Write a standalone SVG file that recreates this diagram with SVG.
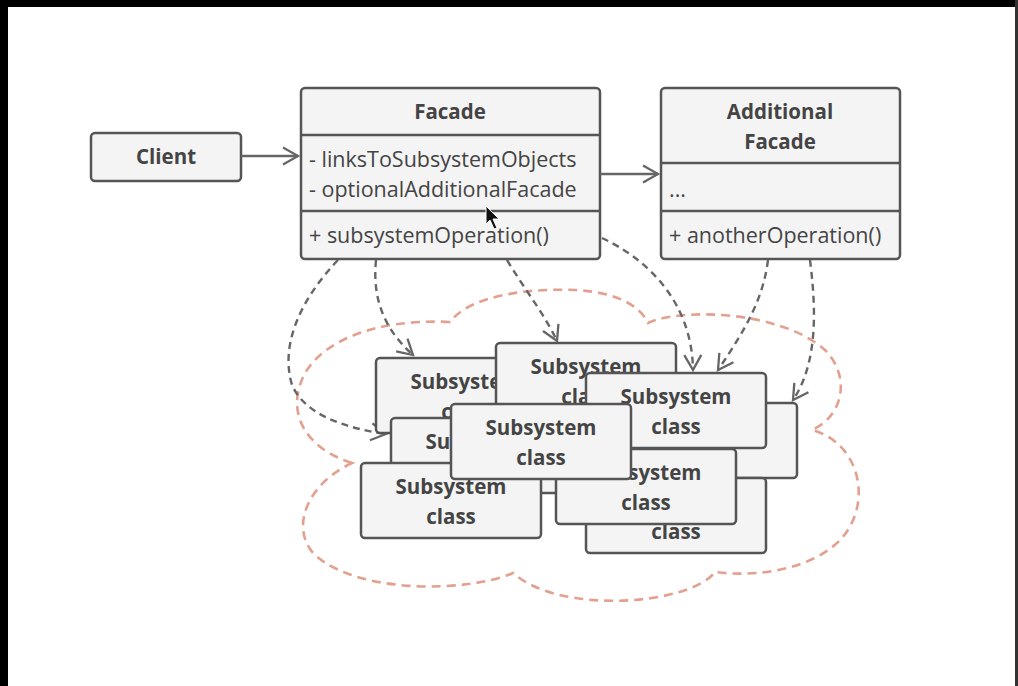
<svg xmlns="http://www.w3.org/2000/svg" width="1018" height="686" viewBox="0 0 1018 686">
<style>
.box{fill:#f4f4f4;stroke:#555;stroke-width:2.5}
.t{font-family:"Open Sans","Liberation Sans",sans-serif;fill:#444}
.b{font-weight:bold;font-size:20.5px;text-anchor:middle}
.m{font-size:21.5px}
.dash{fill:none;stroke:#666;stroke-width:2.4;stroke-dasharray:7 5}
.solid{fill:none;stroke:#666;stroke-width:2.5}
.cloud{fill:none;stroke:#e4a08f;stroke-width:2.6;stroke-dasharray:9 6}
</style>
<defs>
<marker id="ah" markerWidth="20" markerHeight="22" refX="16" refY="10" orient="auto" markerUnits="userSpaceOnUse">
<path d="M1,1.5 L16,10 L1,18.5" fill="none" stroke="#666" stroke-width="2.3" stroke-dasharray="none"/>
</marker>
<g id="sub">
<rect class="box" x="0" y="0" width="180" height="75" rx="4"/>
<text class="t b" x="90" y="31">Subsystem</text>
<text class="t b" x="90" y="61">class</text>
</g>
</defs>
<rect x="0" y="0" width="1018" height="686" fill="#fff"/>
<rect x="0" y="0" width="1018" height="7" fill="#000"/>
<rect x="0" y="0" width="8" height="686" fill="#000"/>
<rect x="1015" y="0" width="3" height="686" fill="#333"/>

<path class="cloud" d="M352,463 C305,448 290,415 300,385 C312,345 370,318 450,322 C470,295 530,288 575,290 C615,292 640,305 648,323 C680,308 780,310 825,350 C850,375 845,415 812,430 C858,442 874,500 842,538 C815,568 760,578 715,572 C690,605 560,615 513,573 C470,592 360,595 315,555 C290,530 305,485 352,463 Z"/>

<g id="client">
<rect class="box" x="91" y="133" width="150" height="48" rx="4"/>
<text class="t b" x="166" y="164">Client</text>
</g>

<g id="facade">
<rect class="box" x="301" y="88" width="299" height="171" rx="4"/>
<line x1="301" y1="135" x2="600" y2="135" stroke="#555" stroke-width="2.5"/>
<line x1="301" y1="211" x2="600" y2="211" stroke="#555" stroke-width="2.5"/>
<text class="t b" x="450" y="119">Facade</text>
<text class="t m" x="309" y="167">- linksToSubsystemObjects</text>
<text class="t m" x="309" y="197">- optionalAdditionalFacade</text>
<text class="t m" x="309" y="243">+ subsystemOperation()</text>
</g>

<g id="additional-facade">
<rect class="box" x="661" y="88" width="239" height="171" rx="4"/>
<line x1="661" y1="163" x2="900" y2="163" stroke="#555" stroke-width="2.5"/>
<line x1="661" y1="211" x2="900" y2="211" stroke="#555" stroke-width="2.5"/>
<text class="t b" x="780" y="119">Additional</text>
<text class="t b" x="780" y="149">Facade</text>
<text class="t m" x="669" y="197">...</text>
<text class="t m" x="669" y="243">+ anotherOperation()</text>
</g>

<g id="connectors">
<line class="solid" x1="241" y1="156" x2="298" y2="156" marker-end="url(#ah)"/>
<line class="solid" x1="600" y1="174" x2="658" y2="174" marker-end="url(#ah)"/>
<path class="dash" d="M338,260 C300,300 280,345 292,385 C305,415 345,428 386,434" marker-end="url(#ah)"/>
<path class="dash" d="M376,260 C372,300 385,330 413,355" marker-end="url(#ah)"/>
<path class="dash" d="M507,260 C525,290 545,315 557,341" marker-end="url(#ah)"/>
<path class="dash" d="M602,238 C645,258 692,300 693,370" marker-end="url(#ah)"/>
<path class="dash" d="M768,260 C763,300 745,330 718,370" marker-end="url(#ah)"/>
<path class="dash" d="M810,260 C815,300 820,360 793,400" marker-end="url(#ah)"/>
</g>

<g id="subsystem-a"><use href="#sub" x="376" y="358"/></g>
<g id="subsystem-b"><use href="#sub" x="496" y="343"/></g>
<g id="subsystem-d"><use href="#sub" x="617" y="403"/></g>
<g id="subsystem-i"><use href="#sub" x="586" y="478"/></g>
<g id="subsystem-f"><use href="#sub" x="391" y="418"/></g>
<g id="subsystem-g"><use href="#sub" x="361" y="463"/></g>
<g id="subsystem-h"><use href="#sub" x="556" y="449"/></g>
<g id="subsystem-c"><use href="#sub" x="586" y="373"/></g>
<g id="subsystem-e"><use href="#sub" x="451" y="404"/></g>

<path d="M486,206 L486,224 L490,220 L494,229 L497,228 L493,219 L499,219 Z" fill="#111" stroke="#fff" stroke-width="1"/>
</svg>
